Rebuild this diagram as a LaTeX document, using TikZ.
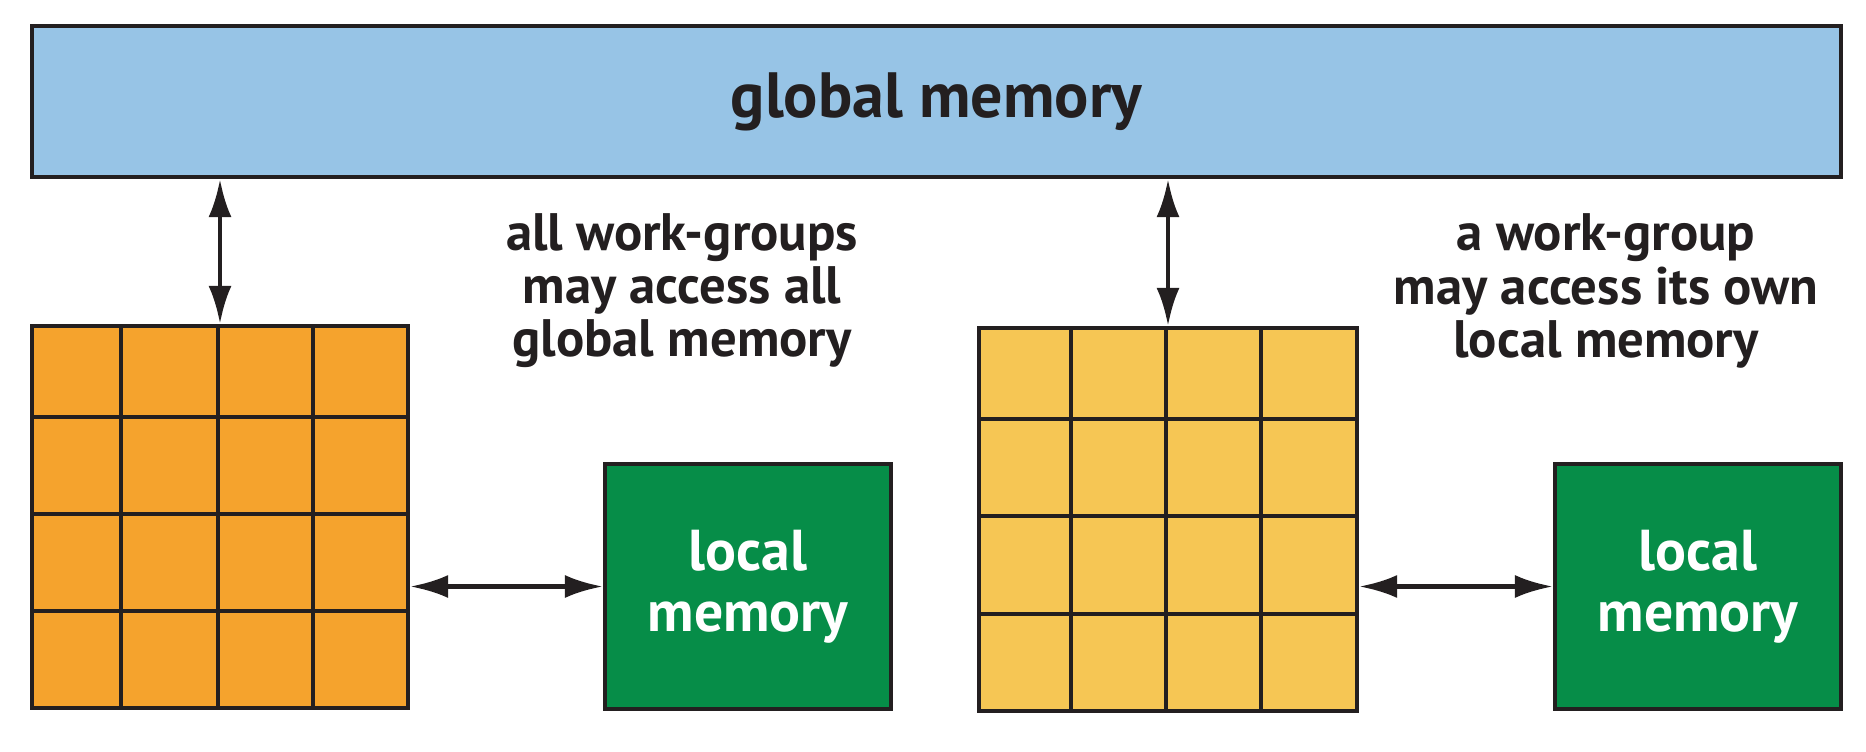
\documentclass[tikz,border=0pt]{standalone}
\usepackage{fontspec}
\setmainfont{PT Sans}
\usetikzlibrary{arrows.meta}
\definecolor{gmblue}{HTML}{97C4E6}
\definecolor{wgorange}{HTML}{F5A32D}
\definecolor{wgyellow}{HTML}{F6C654}
\definecolor{lmgreen}{HTML}{068D48}
\definecolor{inkblack}{HTML}{231F20}
\tikzset{
    box/.style={draw=inkblack, line width=1.2pt, inner sep=0pt},
    pfeil/.style={{Latex[length=3.8mm,width=2.3mm]}-{Latex[length=3.8mm,width=2.3mm]}, draw=inkblack, line width=1.3pt},
    gitter/.style={draw=inkblack, line width=1.2pt},
    beschriftung/.style={text=inkblack, align=center, font=\fontsize{15}{15.1}\selectfont\bfseries},
    lokal/.style={box, fill=lmgreen, minimum width=2.86cm, minimum height=2.45cm, text=white, align=center, font=\fontsize{16.4}{17.4}\selectfont\bfseries}
}
\begin{document}
\begin{tikzpicture}
            \useasboundingbox (0, 0) rectangle (18.66, -7.51);

            % Speicher
            \node[box, fill=gmblue, minimum width=18.09cm, minimum height=1.51cm, text=inkblack, font=\fontsize{18.2}{22}\selectfont\bfseries] (global) at (9.365, -1.015) {global memory};
            \node[box, fill=wgorange, minimum width=3.76cm, minimum height=3.82cm] (wgA) at (2.20, -5.17) {};
            \node[box, fill=wgyellow, minimum width=3.78cm, minimum height=3.83cm] (wgB) at (11.68, -5.195) {};
            \node[lokal] (lmA) at (7.48, -5.865) {local\\memory};
            \node[lokal] (lmB) at (16.98, -5.865) {local\\memory};

            % Gitter
            \draw[gitter] (1.21, -3.26) -- (1.21, -7.08);
            \draw[gitter] (2.18, -3.26) -- (2.18, -7.08);
            \draw[gitter] (3.13, -3.26) -- (3.13, -7.08);
            \draw[gitter] (0.32, -4.17) -- (4.08, -4.17);
            \draw[gitter] (0.32, -5.14) -- (4.08, -5.14);
            \draw[gitter] (0.32, -6.11) -- (4.08, -6.11);
            \draw[gitter] (10.71, -3.28) -- (10.71, -7.11);
            \draw[gitter] (11.66, -3.28) -- (11.66, -7.11);
            \draw[gitter] (12.61, -3.28) -- (12.61, -7.11);
            \draw[gitter] (9.79, -4.19) -- (13.57, -4.19);
            \draw[gitter] (9.79, -5.16) -- (13.57, -5.16);
            \draw[gitter] (9.79, -6.14) -- (13.57, -6.14);

            % Pfeile und Beschriftungen
            \draw[pfeil] (global.south -| wgA.north) -- (wgA.north);
            \draw[pfeil] (global.south -| wgB.north) -- (wgB.north);
            \draw[pfeil] (wgA.east |- lmA.west) -- (lmA.west);
            \draw[pfeil] (wgB.east |- lmB.west) -- (lmB.west);
            \node[beschriftung] (txtA) at (6.82, -2.91) {all work-groups\\may access all\\global memory};
            \node[beschriftung] (txtB) at (16.06, -2.91) {a work-group\\may access its own\\local memory};
        \end{tikzpicture}
\end{document}
